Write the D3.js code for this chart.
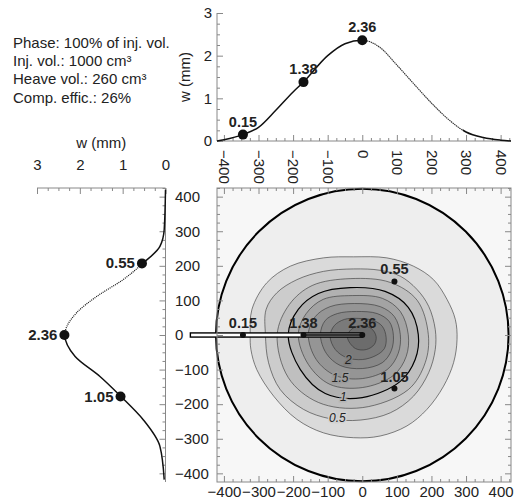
<!DOCTYPE html>
<html>
<head>
<meta charset="utf-8">
<script src="https://cdn.jsdelivr.net/npm/d3@7"></script>
<style>
  body { margin: 0; background: #fff; }
  text { font-family: "Liberation Sans", Arial, sans-serif; }
</style>
</head>
<body>
<svg id="chart" width="523" height="502"></svg>
<script>
// info text
const infoLines = ["Phase: 100% of inj. vol.", "Inj. vol.: 1000 cm³", "Heave vol.: 260 cm³", "Comp. effic.: 26%"];

// heave profile along the injection line (top chart)
const topX = [-420, -400, -345, -300, -250, -200, -170, -100, -50, 0, 50, 100, 150, 200, 250, 300, 350, 400, 430];
const topW = [0, 0.03, 0.15, 0.32, 0.72, 1.15, 1.38, 2.0, 2.28, 2.36, 2.2, 1.78, 1.33, 0.89, 0.5, 0.21, 0.08, 0.02, 0];
const topMarks = [[-345, 0.15], [-170, 1.38], [0, 2.36]];

// heave profile across (left chart)
const sideY = [420, 305, 256, 207, 160, 112, 65, 0, -62, -120, -178, -245, -322, -418];
const sideW = [0, 0.03, 0.13, 0.53, 0.99, 1.6, 2.07, 2.35, 2.11, 1.53, 1.04, 0.52, 0.13, 0.03];
const sideMarks = [[207, 0.55], [0, 2.36], [-178, 1.05]];

// measured points in plan view
const planX = [-345, -170, 0, 93, 93];
const planY = [0, 0, 0, 155, -155];
const planLabels = ["0.15", "1.38", "2.36", "0.55", "1.05"];

// contour lines (mm), outlines
const levels = [0.25, 0.5, 0.75, 1, 1.25, 1.5, 1.75, 2, 2.25];
const c025 = [[-324, 1], [-319, 74], [-276, 151], [-208, 199], [-112, 223], [-25, 226], [71, 223], [148, 199], [206, 160], [245, 103], [269, 45], [274, -13], [264, -80], [235, -148], [187, -215], [129, -263], [52, -292], [-25, -297], [-112, -283], [-189, -244], [-256, -177], [-305, -100], [-322, -42]];
const c050 = [[-280, 1], [-278, 74], [-247, 122], [-189, 160], [-112, 184], [-25, 191], [52, 187], [110, 170], [158, 132], [192, 83], [211, 16], [211, -42], [192, -109], [148, -177], [81, -225], [-6, -246], [-93, -242], [-170, -215], [-237, -158], [-271, -80]];
const c075 = [[-246, 1], [-211, 88], [-145, 143], [-35, 163], [81, 152], [159, 100], [191, 1], [182, -80], [133, -158], [0, -210], [-127, -195], [-214, -123]];
const c100 = [[-214, 1], [-185, 74], [-127, 120], [-35, 137], [66, 126], [133, 80], [162, 1], [153, -71], [110, -134], [0, -181], [-107, -169], [-179, -100]];
const c125 = [[-185, 1], [-162, 62], [-113, 103], [-29, 114], [58, 106], [110, 68], [133, 1], [127, -62], [90, -117], [0, -152], [-93, -143], [-156, -85]];
const c150 = [[-156, 1], [-136, 53], [-93, 82], [-23, 91], [52, 82], [93, 53], [110, 1], [104, -53], [72, -100], [0, -126], [-78, -117], [-133, -71]];
const c175 = [[-121, 1], [-107, 42], [-72, 62], [-17, 68], [43, 62], [78, 39], [90, -1], [84, -45], [58, -80], [0, -97], [-64, -88], [-104, -53]];
const c200 = [[-93, -4], [-81, 27], [-52, 45], [-12, 48], [32, 42], [58, 25], [69, -7], [64, -39], [40, -59], [0, -71], [-46, -65], [-78, -42]];
const c225 = [[-43, -7], [-32, 16], [-3, 27], [26, 19], [40, -4], [35, -27], [12, -42], [-20, -39]];
const contours = [c025, c050, c075, c100, c125, c150, c175, c200, c225];
const contourLabels = [["0.5", -72, -239], ["1", -55, -178], ["1.5", -64, -123], ["2", -40, -71]];

const svg = d3.select("#chart");
const axisColor = "#888";

// scales
const x = d3.scaleLinear().domain([-420, 430]).range([217, 511]);
const y = d3.scaleLinear().domain([-425, 425]).range([482, 188]);
const wTop = d3.scaleLinear().domain([0, 3]).range([141, 13]);
const wSide = d3.scaleLinear().domain([0, 3]).range([165.5, 37]);

function styleAxis(g) {
  g.select(".domain").remove();
  g.selectAll(".tick line").attr("stroke", axisColor);
  g.selectAll(".tick text").attr("fill", "#222");
  g.attr("font-size", 15).attr("font-family", "Liberation Sans, Arial, sans-serif");
}

// ---------- info text ----------
svg.append("g")
  .selectAll("text")
  .data(infoLines)
  .join("text")
  .attr("x", 13)
  .attr("y", (d, i) => 48 + i * 18.2)
  .attr("font-size", 15)
  .attr("fill", "#222")
  .text(d => d);

// ---------- plan view ----------
const plan = svg.append("g");

plan.append("rect")
  .attr("x", x(-420)).attr("y", y(425))
  .attr("width", x(430) - x(-420)).attr("height", y(-425) - y(425))
  .attr("fill", "#f7f7f7");

plan.append("circle")
  .attr("cx", x(0)).attr("cy", y(0))
  .attr("r", x(423) - x(0))
  .attr("fill", "#eeeeee");

const band = d3.scaleLinear().domain([0.25, 2.25]).range(["#dadada", "#6c6c6c"]);
const contourLine = d3.line()
  .x(d => x(d[0])).y(d => y(d[1]))
  .curve(d3.curveCatmullRomClosed);

plan.append("g")
  .selectAll("path")
  .data(contours)
  .join("path")
  .attr("d", contourLine)
  .attr("fill", (d, i) => band(levels[i]))
  .attr("stroke", (d, i) => (levels[i] === 1 ? "#000" : "#333"))
  .attr("stroke-width", (d, i) => (levels[i] === 1 ? 1.2 : 0.6));

plan.append("g")
  .selectAll("text")
  .data(contourLabels)
  .join("text")
  .attr("x", d => x(d[1])).attr("y", d => y(d[2]))
  .attr("dy", "0.35em")
  .attr("text-anchor", "middle")
  .attr("font-size", 12)
  .attr("font-style", "italic")
  .attr("fill", "#222")
  .attr("stroke", (d) => band(+d[0] - 0.1))
  .attr("stroke-width", 3)
  .attr("paint-order", "stroke")
  .text(d => d[0]);

plan.append("circle")
  .attr("cx", x(0)).attr("cy", y(0))
  .attr("r", x(423) - x(0))
  .attr("fill", "none")
  .attr("stroke", "#000")
  .attr("stroke-width", 2);

// injection pipe
plan.append("rect")
  .attr("x", x(-497)).attr("y", y(6))
  .attr("width", x(0) - x(-497)).attr("height", y(-6) - y(6))
  .attr("fill", "#fff")
  .attr("stroke", "#000")
  .attr("stroke-width", 1.4);
plan.append("line")
  .attr("x1", x(-170)).attr("x2", x(0))
  .attr("y1", y(0)).attr("y2", y(0))
  .attr("stroke", "#333")
  .attr("stroke-width", 2.5);

// frame and ticks
plan.append("rect")
  .attr("x", x(-420)).attr("y", y(425))
  .attr("width", x(430) - x(-420)).attr("height", y(-425) - y(425))
  .attr("fill", "none")
  .attr("stroke", axisColor);

const major = d3.range(-400, 401, 100);
const minor = d3.range(-400, 426, 25).filter(v => v % 100 !== 0);

const planLeft = plan.append("g").attr("transform", `translate(${x(-420)},0)`)
  .call(d3.axisLeft(y).tickValues(major).tickSize(-6))
  .call(styleAxis);
planLeft.selectAll(".tick text")
  .attr("x", 175 - x(-420))
  .attr("text-anchor", "start");
plan.append("g").attr("transform", `translate(${x(-420)},0)`)
  .call(d3.axisLeft(y).tickValues(minor).tickSize(-3).tickFormat(""))
  .call(styleAxis);
plan.append("g").attr("transform", `translate(${x(430)},0)`)
  .call(d3.axisRight(y).tickValues(major).tickSize(-6).tickFormat(""))
  .call(styleAxis);
plan.append("g").attr("transform", `translate(${x(430)},0)`)
  .call(d3.axisRight(y).tickValues(minor).tickSize(-3).tickFormat(""))
  .call(styleAxis);
plan.append("g").attr("transform", `translate(0,${y(-425)})`)
  .call(d3.axisBottom(x).tickValues(major).tickSize(-6).tickPadding(4))
  .call(styleAxis);
plan.append("g").attr("transform", `translate(0,${y(-425)})`)
  .call(d3.axisBottom(x).tickValues(minor).tickSize(-3).tickFormat(""))
  .call(styleAxis);
plan.append("g").attr("transform", `translate(0,${y(425)})`)
  .call(d3.axisTop(x).tickValues(major).tickSize(-6).tickFormat(""))
  .call(styleAxis);
plan.append("g").attr("transform", `translate(0,${y(425)})`)
  .call(d3.axisTop(x).tickValues(minor).tickSize(-3).tickFormat(""))
  .call(styleAxis);

// measured points
plan.append("g")
  .selectAll("circle")
  .data(planX)
  .join("circle")
  .attr("cx", d => x(d))
  .attr("cy", (d, i) => y(planY[i]))
  .attr("r", 3)
  .attr("fill", "#111");
plan.append("g")
  .selectAll("text")
  .data(planLabels)
  .join("text")
  .attr("x", (d, i) => x(planX[i]))
  .attr("y", (d, i) => y(planY[i]) - 7)
  .attr("text-anchor", "middle")
  .attr("font-size", 14.5)
  .attr("font-weight", "bold")
  .attr("fill", "#222")
  .text(d => d);

// ---------- top profile ----------
const topChart = svg.append("g");
const topData = topX.map((v, i) => [v, topW[i]]);
const topLine = d3.line().x(d => x(d[0])).y(d => wTop(d[1])).curve(d3.curveMonotoneX);

topChart.append("line")
  .attr("x1", x(-420)).attr("x2", x(430))
  .attr("y1", wTop(0)).attr("y2", wTop(0))
  .attr("stroke", axisColor);
topChart.append("line")
  .attr("x1", x(-420)).attr("x2", x(-420))
  .attr("y1", wTop(0)).attr("y2", wTop(3))
  .attr("stroke", axisColor);

topChart.append("g").attr("transform", `translate(${x(-420)},0)`)
  .call(d3.axisLeft(wTop).tickValues([0, 1, 2, 3]).tickSize(-6).tickPadding(5).tickFormat(d3.format("d")))
  .call(styleAxis);
topChart.append("g").attr("transform", `translate(${x(-420)},0)`)
  .call(d3.axisLeft(wTop).tickValues(d3.range(0.25, 3, 0.25).filter(v => v % 1 !== 0)).tickSize(-3).tickFormat(""))
  .call(styleAxis);
const topAxis = topChart.append("g").attr("transform", `translate(0,${wTop(0)})`)
  .call(d3.axisBottom(x).tickValues(major).tickSize(-6))
  .call(styleAxis);
topAxis.selectAll(".tick text")
  .attr("y", 0).attr("x", 9).attr("dy", "0.35em")
  .attr("transform", "rotate(90)")
  .style("text-anchor", "start");
topChart.append("g").attr("transform", `translate(0,${wTop(0)})`)
  .call(d3.axisBottom(x).tickValues(minor).tickSize(-3).tickFormat(""))
  .call(styleAxis);

topChart.append("text")
  .attr("transform", `translate(190,${wTop(1.5)}) rotate(-90)`)
  .attr("text-anchor", "middle")
  .attr("font-size", 15)
  .attr("fill", "#222")
  .text("w (mm)");

// solid outside the thin stretch on the far side
const defs = svg.append("defs");
defs.append("clipPath").attr("id", "topSolid")
  .selectAll("rect")
  .data([[-430, 0], [290, 440]])
  .join("rect")
  .attr("x", d => x(d[0])).attr("width", d => x(d[1]) - x(d[0]))
  .attr("y", 0).attr("height", 160);
defs.append("clipPath").attr("id", "topDotted")
  .append("rect")
  .attr("x", x(0)).attr("width", x(290) - x(0))
  .attr("y", 0).attr("height", 160);

topChart.append("path")
  .datum(topData)
  .attr("d", topLine)
  .attr("fill", "none")
  .attr("stroke", "#111")
  .attr("stroke-width", 1.5)
  .attr("clip-path", "url(#topSolid)");
topChart.append("path")
  .datum(topData)
  .attr("d", topLine)
  .attr("fill", "none")
  .attr("stroke", "#333")
  .attr("stroke-width", 1.1)
  .attr("stroke-dasharray", "1.5,0.6")
  .attr("clip-path", "url(#topDotted)");

topChart.append("g")
  .selectAll("circle")
  .data(topMarks)
  .join("circle")
  .attr("cx", d => x(d[0])).attr("cy", d => wTop(d[1]))
  .attr("r", 5)
  .attr("fill", "#111");
topChart.append("g")
  .selectAll("text")
  .data(topMarks)
  .join("text")
  .attr("x", d => x(d[0])).attr("y", d => wTop(d[1]) - 8)
  .attr("text-anchor", "middle")
  .attr("font-size", 14.5)
  .attr("font-weight", "bold")
  .attr("fill", "#222")
  .text(d => d[1].toFixed(2));

// ---------- side profile ----------
const side = svg.append("g");
const sideData = sideY.map((v, i) => [v, sideW[i]]);
const sideLine = d3.line().x(d => wSide(d[1])).y(d => y(d[0])).curve(d3.curveMonotoneY);

side.append("line")
  .attr("x1", wSide(0)).attr("x2", wSide(0))
  .attr("y1", y(425)).attr("y2", y(-425))
  .attr("stroke", axisColor);
side.append("line")
  .attr("x1", wSide(0)).attr("x2", wSide(3))
  .attr("y1", y(425)).attr("y2", y(425))
  .attr("stroke", axisColor);

side.append("g").attr("transform", `translate(${wSide(0)},0)`)
  .call(d3.axisLeft(y).tickValues(major).tickSize(6).tickFormat(""))
  .call(styleAxis);
side.append("g").attr("transform", `translate(${wSide(0)},0)`)
  .call(d3.axisLeft(y).tickValues(minor).tickSize(3).tickFormat(""))
  .call(styleAxis);
side.append("g").attr("transform", `translate(0,${y(425)})`)
  .call(d3.axisTop(wSide).tickValues([0, 1, 2, 3]).tickSize(-6).tickPadding(18).tickFormat(d3.format("d")))
  .call(styleAxis);
side.append("g").attr("transform", `translate(0,${y(425)})`)
  .call(d3.axisTop(wSide).tickValues(d3.range(0.25, 3, 0.25).filter(v => v % 1 !== 0)).tickSize(-3).tickFormat(""))
  .call(styleAxis);

side.append("text")
  .attr("x", wSide(1.5)).attr("y", 148)
  .attr("text-anchor", "middle")
  .attr("font-size", 15)
  .attr("fill", "#222")
  .text("w (mm)");

defs.append("clipPath").attr("id", "sideSolid")
  .selectAll("rect")
  .data([[440, 207], [0, -440]])
  .join("rect")
  .attr("y", d => y(d[0])).attr("height", d => y(d[1]) - y(d[0]))
  .attr("x", 0).attr("width", 180);
defs.append("clipPath").attr("id", "sideDotted")
  .append("rect")
  .attr("y", y(207)).attr("height", y(0) - y(207))
  .attr("x", 0).attr("width", 180);

side.append("path")
  .datum(sideData)
  .attr("d", sideLine)
  .attr("fill", "none")
  .attr("stroke", "#111")
  .attr("stroke-width", 1.5)
  .attr("clip-path", "url(#sideSolid)");
side.append("path")
  .datum(sideData)
  .attr("d", sideLine)
  .attr("fill", "none")
  .attr("stroke", "#111")
  .attr("stroke-width", 1.2)
  .attr("stroke-dasharray", "1,1")
  .attr("clip-path", "url(#sideDotted)");

side.append("g")
  .selectAll("circle")
  .data(sideMarks)
  .join("circle")
  .attr("cx", d => wSide(d[1])).attr("cy", d => y(d[0]))
  .attr("r", 5)
  .attr("fill", "#111");
side.append("g")
  .selectAll("text")
  .data(sideMarks)
  .join("text")
  .attr("x", d => wSide(d[1]) - 7).attr("y", d => y(d[0]) + 5)
  .attr("text-anchor", "end")
  .attr("font-size", 15)
  .attr("font-weight", "bold")
  .attr("fill", "#222")
  .text(d => d[1].toFixed(2));
</script>
</body>
</html>
